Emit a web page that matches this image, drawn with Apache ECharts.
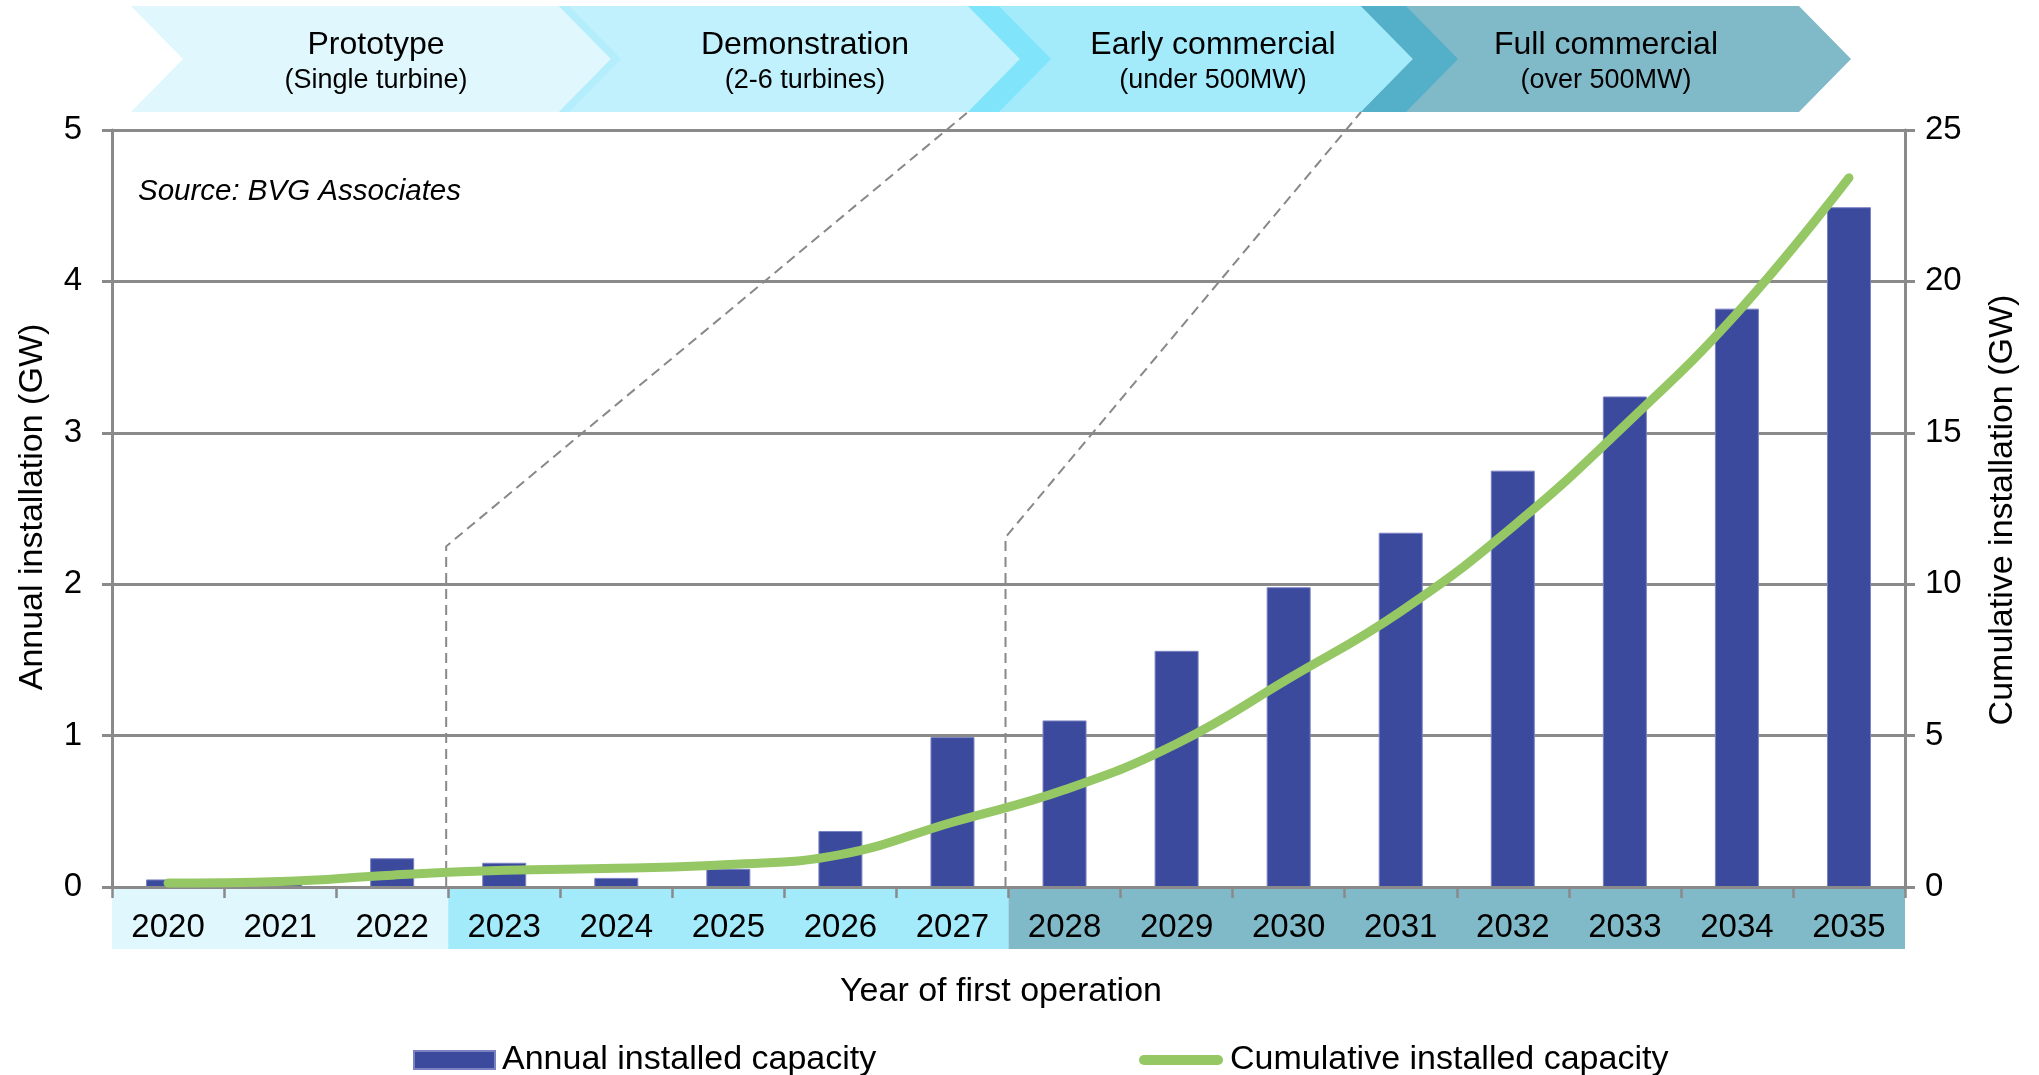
<!DOCTYPE html>
<html><head><meta charset="utf-8">
<script src="https://cdn.jsdelivr.net/npm/echarts@6/dist/echarts.min.js"></script>
<style>html,body{margin:0;padding:0;background:#fff}#c{width:2039px;height:1075px}</style>
</head><body><div id="c"></div>
<script>
// ---- data ----
const years = ['2020','2021','2022','2023','2024','2025','2026','2027','2028','2029','2030','2031','2032','2033','2034','2035'];
const annualGW = [0.05, 0.02, 0.19, 0.16, 0.06, 0.12, 0.37, 0.99, 1.10, 1.56, 1.98, 2.34, 2.75, 3.24, 3.82, 4.49];
const cumulativeGW = [0.13, 0.18, 0.39, 0.55, 0.62, 0.74, 1.07, 2.14, 3.21, 4.73, 6.88, 9.10, 11.90, 15.25, 18.95, 23.42];
const phaseTitles = ['Prototype', 'Demonstration', 'Early commercial', 'Full commercial'];
const phaseSubtitles = ['(Single turbine)', '(2-6 turbines)', '(under 500MW)', '(over 500MW)'];
const phaseFirstIndex = [0, 3, 8];   // first category of each band below the axis
const phaseLastIndex = [2, 7, 15];
const seriesNames = ['Annual installed capacity', 'Cumulative installed capacity'];
const sourceText = 'Source: BVG Associates';

const FONT = '"Liberation Sans", Arial, Helvetica, sans-serif';
const chart = echarts.init(document.getElementById('c'));

chart.setOption({
  animation: false,
  backgroundColor: '#ffffff',
  grid: { left: 112, right: 134, top: 130, bottom: 188, containLabel: false, outerBoundsMode: 'none' },
  legend: [
    { data: [{ name: seriesNames[0], icon: 'rect' }], left: 413, top: 1043, padding: 0, itemWidth: 81, itemHeight: 18,
      selectedMode: false, textStyle: { fontSize: 34, color: '#000', fontFamily: FONT, padding: [0, 0, 0, 2] } },
    { data: [{ name: seriesNames[1], icon: 'path://M5,0 L79,0 A5,5 0 0 1 79,10 L5,10 A5,5 0 0 1 5,0 Z' }], left: 1139, top: 1043, padding: 0, itemWidth: 84, itemHeight: 10,
      selectedMode: false, textStyle: { fontSize: 34, color: '#000', fontFamily: FONT, padding: [0, 0, 0, 2] } }
  ],
  xAxis: {
    type: 'category', data: years,
    axisLine: { show: true, lineStyle: { color: '#8a8a8a', width: 3 } },
    axisTick: { show: true, length: 11, lineStyle: { color: '#8a8a8a', width: 2.5 } },
    axisLabel: { fontSize: 33, color: '#000', fontFamily: FONT, margin: 24 },
    z: 3
  },
  yAxis: [
    { type: 'value', min: 0, max: 5, interval: 1,
      axisLine: { show: true, lineStyle: { color: '#8a8a8a', width: 3 } },
      axisTick: { show: true, length: 10, lineStyle: { color: '#8a8a8a', width: 3 } },
      splitLine: { show: true, lineStyle: { color: '#8a8a8a', width: 3 } },
      axisLabel: { fontSize: 33, color: '#000', fontFamily: FONT, margin: 30 } },
    { type: 'value', min: 0, max: 25, interval: 5, position: 'right',
      axisLine: { show: true, lineStyle: { color: '#8a8a8a', width: 3 } },
      axisTick: { show: true, length: 10, lineStyle: { color: '#8a8a8a', width: 3 } },
      splitLine: { show: false },
      axisLabel: { fontSize: 33, color: '#000', fontFamily: FONT, margin: 20 } }
  ],
  series: [
    { name: seriesNames[0], type: 'bar', yAxisIndex: 0, data: annualGW, barWidth: 44,
      itemStyle: { color: '#3c4a9e', borderColor: '#7a82c2', borderWidth: 1 }, z: 2 },
    { name: seriesNames[1], type: 'line', yAxisIndex: 1, data: cumulativeGW, smooth: 0.45,
      showSymbol: false, symbol: 'none', itemStyle: { color: '#95c764' },
      lineStyle: { color: '#95c764', width: 9, cap: 'round', join: 'round' }, z: 4 }
  ]
});

// ---- decorations tied to the axes ----
const cx = i => chart.convertToPixel({ xAxisIndex: 0 }, i);
const step = cx(1) - cx(0);
const bnd = i => cx(i) - step / 2;           // left boundary of category i
const y0 = chart.convertToPixel({ yAxisIndex: 0 }, 0);
const bandColors = ['#dff7fd', '#a3ebfb', '#80b9c8'];
const g = [];
phaseFirstIndex.forEach((f, k) => {
  const x1 = bnd(f), x2 = bnd(phaseLastIndex[k]) + step;
  g.push({ type: 'rect', z: -5, silent: true, shape: { x: x1, y: y0, width: x2 - x1, height: 62 }, style: { fill: bandColors[k] } });
});

// chevrons
const T = 6, B = 112, M = (T + B) / 2, D = 52;
const chev = [[131, 569], [559, 999], [968, 1406], [1361, 1799]];
const chevColors = ['#dff7fd', '#c1f1fc', '#a3ebfb', '#80b9c8'];
const overlapColors = ['#b4eefc', '#80e4fb', '#53b0c8'];
const poly = (xl, xr) => [[xl, T], [xr, T], [xr + D, M], [xr, B], [xl, B], [xl + D, M]];
chev.forEach((c, k) => {
  g.push({ type: 'polygon', z: 1, silent: true, shape: { points: poly(c[0], c[1]) }, style: { fill: chevColors[k] } });
});
for (let k = 0; k < 3; k++) {
  g.push({ type: 'polygon', z: 1, silent: true, shape: { points: poly(chev[k + 1][0], chev[k][1]) }, style: { fill: overlapColors[k] } });
}
chev.forEach((c, k) => {
  const xm = (c[0] + D + c[1]) / 2;
  g.push({ type: 'text', z: 2, silent: true, x: xm, y: 45, style: { text: phaseTitles[k], font: '32px ' + FONT, fill: '#000', align: 'center', verticalAlign: 'middle', textAlign: 'center', textVerticalAlign: 'middle' } });
  g.push({ type: 'text', z: 2, silent: true, x: xm, y: 81, style: { text: phaseSubtitles[k], font: '27px ' + FONT, fill: '#000', align: 'center', verticalAlign: 'middle', textAlign: 'center', textVerticalAlign: 'middle' } });
});

// dashed leader lines from band boundaries to chevron bottoms
const kink1 = chart.convertToPixel({ yAxisIndex: 0 }, 2.25);
const kink2 = chart.convertToPixel({ yAxisIndex: 0 }, 2.31);
const leaders = [[bnd(3) - 2, kink1, chev[2][0]], [bnd(8) - 3, kink2, chev[3][0]]];
leaders.forEach(l => {
  g.push({ type: 'polyline', z: 1, silent: true, shape: { points: [[l[0], y0], [l[0], l[1]], [l[2], B]] },
    style: { stroke: '#888', lineWidth: 2, lineDash: [10, 6], fill: null } });
});

// texts
g.push({ type: 'text', z: 3, silent: true, x: 138, y: 192, style: { text: sourceText, font: 'italic 29.5px ' + FONT, fill: '#000', align: 'left', verticalAlign: 'middle', textAlign: 'left', textVerticalAlign: 'middle' } });
g.push({ type: 'text', z: 3, silent: true, x: 33, y: 507, rotation: Math.PI / 2, style: { text: 'Annual installation (GW)', font: '34px ' + FONT, fill: '#000', align: 'center', verticalAlign: 'middle', textAlign: 'center', textVerticalAlign: 'middle' } });
g.push({ type: 'text', z: 3, silent: true, x: 2003, y: 510, rotation: Math.PI / 2, style: { text: 'Cumulative installation (GW)', font: '34px ' + FONT, fill: '#000', align: 'center', verticalAlign: 'middle', textAlign: 'center', textVerticalAlign: 'middle' } });
g.push({ type: 'text', z: 3, silent: true, x: 1001, y: 992, style: { text: 'Year of first operation', font: '34px ' + FONT, fill: '#000', align: 'center', verticalAlign: 'middle', textAlign: 'center', textVerticalAlign: 'middle' } });

chart.setOption({ graphic: { elements: g } });
</script></body></html>
